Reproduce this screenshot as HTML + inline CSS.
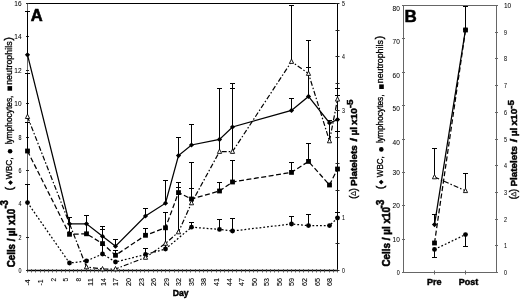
<!DOCTYPE html>
<html><head><meta charset="utf-8"><title>Figure</title>
<style>html,body{margin:0;padding:0;background:#fff}svg{display:block}</style></head>
<body>
<svg width="520" height="299" viewBox="0 0 520 299" font-family='"Liberation Sans", sans-serif' fill="#000">
<rect width="520" height="299" fill="#fff"/>
<line x1="27.50" y1="3.50" x2="337.50" y2="3.50" stroke="#000" stroke-width="1" />
<line x1="27.50" y1="3.50" x2="27.50" y2="270.50" stroke="#666" stroke-width="1" />
<line x1="337.50" y1="3.50" x2="337.50" y2="270.50" stroke="#000" stroke-width="1" />
<line x1="27.00" y1="270.50" x2="338.00" y2="270.50" stroke="#000" stroke-width="1.3" />
<line x1="27.50" y1="269.00" x2="27.50" y2="272.50" stroke="#444" stroke-width="0.8" />
<line x1="31.50" y1="269.00" x2="31.50" y2="272.50" stroke="#444" stroke-width="0.8" />
<line x1="35.50" y1="269.00" x2="35.50" y2="272.50" stroke="#444" stroke-width="0.8" />
<line x1="40.50" y1="269.00" x2="40.50" y2="272.50" stroke="#444" stroke-width="0.8" />
<line x1="44.50" y1="269.00" x2="44.50" y2="272.50" stroke="#444" stroke-width="0.8" />
<line x1="48.50" y1="269.00" x2="48.50" y2="272.50" stroke="#444" stroke-width="0.8" />
<line x1="52.50" y1="269.00" x2="52.50" y2="272.50" stroke="#444" stroke-width="0.8" />
<line x1="56.50" y1="269.00" x2="56.50" y2="272.50" stroke="#444" stroke-width="0.8" />
<line x1="61.50" y1="269.00" x2="61.50" y2="272.50" stroke="#444" stroke-width="0.8" />
<line x1="65.50" y1="269.00" x2="65.50" y2="272.50" stroke="#444" stroke-width="0.8" />
<line x1="69.50" y1="269.00" x2="69.50" y2="272.50" stroke="#444" stroke-width="0.8" />
<line x1="73.50" y1="269.00" x2="73.50" y2="272.50" stroke="#444" stroke-width="0.8" />
<line x1="77.50" y1="269.00" x2="77.50" y2="272.50" stroke="#444" stroke-width="0.8" />
<line x1="81.50" y1="269.00" x2="81.50" y2="272.50" stroke="#444" stroke-width="0.8" />
<line x1="86.50" y1="269.00" x2="86.50" y2="272.50" stroke="#444" stroke-width="0.8" />
<line x1="90.50" y1="269.00" x2="90.50" y2="272.50" stroke="#444" stroke-width="0.8" />
<line x1="94.50" y1="269.00" x2="94.50" y2="272.50" stroke="#444" stroke-width="0.8" />
<line x1="98.50" y1="269.00" x2="98.50" y2="272.50" stroke="#444" stroke-width="0.8" />
<line x1="102.50" y1="269.00" x2="102.50" y2="272.50" stroke="#444" stroke-width="0.8" />
<line x1="107.50" y1="269.00" x2="107.50" y2="272.50" stroke="#444" stroke-width="0.8" />
<line x1="111.50" y1="269.00" x2="111.50" y2="272.50" stroke="#444" stroke-width="0.8" />
<line x1="115.50" y1="269.00" x2="115.50" y2="272.50" stroke="#444" stroke-width="0.8" />
<line x1="119.50" y1="269.00" x2="119.50" y2="272.50" stroke="#444" stroke-width="0.8" />
<line x1="123.50" y1="269.00" x2="123.50" y2="272.50" stroke="#444" stroke-width="0.8" />
<line x1="128.50" y1="269.00" x2="128.50" y2="272.50" stroke="#444" stroke-width="0.8" />
<line x1="132.50" y1="269.00" x2="132.50" y2="272.50" stroke="#444" stroke-width="0.8" />
<line x1="136.50" y1="269.00" x2="136.50" y2="272.50" stroke="#444" stroke-width="0.8" />
<line x1="140.50" y1="269.00" x2="140.50" y2="272.50" stroke="#444" stroke-width="0.8" />
<line x1="144.50" y1="269.00" x2="144.50" y2="272.50" stroke="#444" stroke-width="0.8" />
<line x1="148.50" y1="269.00" x2="148.50" y2="272.50" stroke="#444" stroke-width="0.8" />
<line x1="153.50" y1="269.00" x2="153.50" y2="272.50" stroke="#444" stroke-width="0.8" />
<line x1="157.50" y1="269.00" x2="157.50" y2="272.50" stroke="#444" stroke-width="0.8" />
<line x1="161.50" y1="269.00" x2="161.50" y2="272.50" stroke="#444" stroke-width="0.8" />
<line x1="165.50" y1="269.00" x2="165.50" y2="272.50" stroke="#444" stroke-width="0.8" />
<line x1="169.50" y1="269.00" x2="169.50" y2="272.50" stroke="#444" stroke-width="0.8" />
<line x1="174.50" y1="269.00" x2="174.50" y2="272.50" stroke="#444" stroke-width="0.8" />
<line x1="178.50" y1="269.00" x2="178.50" y2="272.50" stroke="#444" stroke-width="0.8" />
<line x1="182.50" y1="269.00" x2="182.50" y2="272.50" stroke="#444" stroke-width="0.8" />
<line x1="186.50" y1="269.00" x2="186.50" y2="272.50" stroke="#444" stroke-width="0.8" />
<line x1="190.50" y1="269.00" x2="190.50" y2="272.50" stroke="#444" stroke-width="0.8" />
<line x1="195.50" y1="269.00" x2="195.50" y2="272.50" stroke="#444" stroke-width="0.8" />
<line x1="199.50" y1="269.00" x2="199.50" y2="272.50" stroke="#444" stroke-width="0.8" />
<line x1="203.50" y1="269.00" x2="203.50" y2="272.50" stroke="#444" stroke-width="0.8" />
<line x1="207.50" y1="269.00" x2="207.50" y2="272.50" stroke="#444" stroke-width="0.8" />
<line x1="211.50" y1="269.00" x2="211.50" y2="272.50" stroke="#444" stroke-width="0.8" />
<line x1="216.50" y1="269.00" x2="216.50" y2="272.50" stroke="#444" stroke-width="0.8" />
<line x1="220.50" y1="269.00" x2="220.50" y2="272.50" stroke="#444" stroke-width="0.8" />
<line x1="224.50" y1="269.00" x2="224.50" y2="272.50" stroke="#444" stroke-width="0.8" />
<line x1="228.50" y1="269.00" x2="228.50" y2="272.50" stroke="#444" stroke-width="0.8" />
<line x1="232.50" y1="269.00" x2="232.50" y2="272.50" stroke="#444" stroke-width="0.8" />
<line x1="236.50" y1="269.00" x2="236.50" y2="272.50" stroke="#444" stroke-width="0.8" />
<line x1="241.50" y1="269.00" x2="241.50" y2="272.50" stroke="#444" stroke-width="0.8" />
<line x1="245.50" y1="269.00" x2="245.50" y2="272.50" stroke="#444" stroke-width="0.8" />
<line x1="249.50" y1="269.00" x2="249.50" y2="272.50" stroke="#444" stroke-width="0.8" />
<line x1="253.50" y1="269.00" x2="253.50" y2="272.50" stroke="#444" stroke-width="0.8" />
<line x1="257.50" y1="269.00" x2="257.50" y2="272.50" stroke="#444" stroke-width="0.8" />
<line x1="262.50" y1="269.00" x2="262.50" y2="272.50" stroke="#444" stroke-width="0.8" />
<line x1="266.50" y1="269.00" x2="266.50" y2="272.50" stroke="#444" stroke-width="0.8" />
<line x1="270.50" y1="269.00" x2="270.50" y2="272.50" stroke="#444" stroke-width="0.8" />
<line x1="274.50" y1="269.00" x2="274.50" y2="272.50" stroke="#444" stroke-width="0.8" />
<line x1="278.50" y1="269.00" x2="278.50" y2="272.50" stroke="#444" stroke-width="0.8" />
<line x1="283.50" y1="269.00" x2="283.50" y2="272.50" stroke="#444" stroke-width="0.8" />
<line x1="287.50" y1="269.00" x2="287.50" y2="272.50" stroke="#444" stroke-width="0.8" />
<line x1="291.50" y1="269.00" x2="291.50" y2="272.50" stroke="#444" stroke-width="0.8" />
<line x1="295.50" y1="269.00" x2="295.50" y2="272.50" stroke="#444" stroke-width="0.8" />
<line x1="299.50" y1="269.00" x2="299.50" y2="272.50" stroke="#444" stroke-width="0.8" />
<line x1="303.50" y1="269.00" x2="303.50" y2="272.50" stroke="#444" stroke-width="0.8" />
<line x1="308.50" y1="269.00" x2="308.50" y2="272.50" stroke="#444" stroke-width="0.8" />
<line x1="312.50" y1="269.00" x2="312.50" y2="272.50" stroke="#444" stroke-width="0.8" />
<line x1="316.50" y1="269.00" x2="316.50" y2="272.50" stroke="#444" stroke-width="0.8" />
<line x1="320.50" y1="269.00" x2="320.50" y2="272.50" stroke="#444" stroke-width="0.8" />
<line x1="324.50" y1="269.00" x2="324.50" y2="272.50" stroke="#444" stroke-width="0.8" />
<line x1="329.50" y1="269.00" x2="329.50" y2="272.50" stroke="#444" stroke-width="0.8" />
<line x1="333.50" y1="269.00" x2="333.50" y2="272.50" stroke="#444" stroke-width="0.8" />
<line x1="337.50" y1="269.00" x2="337.50" y2="272.50" stroke="#444" stroke-width="0.8" />
<text x="30.50" y="285.60" font-size="6.9" text-anchor="start" transform="rotate(-90 30.50 285.60)" textLength="6.10" lengthAdjust="spacingAndGlyphs"  stroke="#000" stroke-width="0.1">-4</text>
<text x="43.07" y="285.60" font-size="6.9" text-anchor="start" transform="rotate(-90 43.07 285.60)" textLength="6.10" lengthAdjust="spacingAndGlyphs"  stroke="#000" stroke-width="0.1">-1</text>
<text x="55.64" y="281.40" font-size="6.9" text-anchor="start" transform="rotate(-90 55.64 281.40)" textLength="3.60" lengthAdjust="spacingAndGlyphs"  stroke="#000" stroke-width="0.1">2</text>
<text x="68.20" y="281.40" font-size="6.9" text-anchor="start" transform="rotate(-90 68.20 281.40)" textLength="3.60" lengthAdjust="spacingAndGlyphs"  stroke="#000" stroke-width="0.1">5</text>
<text x="80.77" y="281.40" font-size="6.9" text-anchor="start" transform="rotate(-90 80.77 281.40)" textLength="3.60" lengthAdjust="spacingAndGlyphs"  stroke="#000" stroke-width="0.1">8</text>
<text x="93.34" y="285.90" font-size="6.9" text-anchor="start" transform="rotate(-90 93.34 285.90)" textLength="7.90" lengthAdjust="spacingAndGlyphs"  stroke="#000" stroke-width="0.1">11</text>
<text x="105.91" y="285.90" font-size="6.9" text-anchor="start" transform="rotate(-90 105.91 285.90)" textLength="7.90" lengthAdjust="spacingAndGlyphs"  stroke="#000" stroke-width="0.1">14</text>
<text x="118.47" y="285.90" font-size="6.9" text-anchor="start" transform="rotate(-90 118.47 285.90)" textLength="7.90" lengthAdjust="spacingAndGlyphs"  stroke="#000" stroke-width="0.1">17</text>
<text x="131.04" y="285.90" font-size="6.9" text-anchor="start" transform="rotate(-90 131.04 285.90)" textLength="7.90" lengthAdjust="spacingAndGlyphs"  stroke="#000" stroke-width="0.1">20</text>
<text x="143.61" y="285.90" font-size="6.9" text-anchor="start" transform="rotate(-90 143.61 285.90)" textLength="7.90" lengthAdjust="spacingAndGlyphs"  stroke="#000" stroke-width="0.1">23</text>
<text x="156.18" y="285.90" font-size="6.9" text-anchor="start" transform="rotate(-90 156.18 285.90)" textLength="7.90" lengthAdjust="spacingAndGlyphs"  stroke="#000" stroke-width="0.1">26</text>
<text x="168.74" y="285.90" font-size="6.9" text-anchor="start" transform="rotate(-90 168.74 285.90)" textLength="7.90" lengthAdjust="spacingAndGlyphs"  stroke="#000" stroke-width="0.1">29</text>
<text x="181.31" y="285.90" font-size="6.9" text-anchor="start" transform="rotate(-90 181.31 285.90)" textLength="7.90" lengthAdjust="spacingAndGlyphs"  stroke="#000" stroke-width="0.1">32</text>
<text x="193.88" y="285.90" font-size="6.9" text-anchor="start" transform="rotate(-90 193.88 285.90)" textLength="7.90" lengthAdjust="spacingAndGlyphs"  stroke="#000" stroke-width="0.1">35</text>
<text x="206.45" y="285.90" font-size="6.9" text-anchor="start" transform="rotate(-90 206.45 285.90)" textLength="7.90" lengthAdjust="spacingAndGlyphs"  stroke="#000" stroke-width="0.1">38</text>
<text x="219.01" y="285.90" font-size="6.9" text-anchor="start" transform="rotate(-90 219.01 285.90)" textLength="7.90" lengthAdjust="spacingAndGlyphs"  stroke="#000" stroke-width="0.1">41</text>
<text x="231.58" y="285.90" font-size="6.9" text-anchor="start" transform="rotate(-90 231.58 285.90)" textLength="7.90" lengthAdjust="spacingAndGlyphs"  stroke="#000" stroke-width="0.1">44</text>
<text x="244.15" y="285.90" font-size="6.9" text-anchor="start" transform="rotate(-90 244.15 285.90)" textLength="7.90" lengthAdjust="spacingAndGlyphs"  stroke="#000" stroke-width="0.1">47</text>
<text x="256.72" y="285.90" font-size="6.9" text-anchor="start" transform="rotate(-90 256.72 285.90)" textLength="7.90" lengthAdjust="spacingAndGlyphs"  stroke="#000" stroke-width="0.1">50</text>
<text x="269.28" y="285.90" font-size="6.9" text-anchor="start" transform="rotate(-90 269.28 285.90)" textLength="7.90" lengthAdjust="spacingAndGlyphs"  stroke="#000" stroke-width="0.1">53</text>
<text x="281.85" y="285.90" font-size="6.9" text-anchor="start" transform="rotate(-90 281.85 285.90)" textLength="7.90" lengthAdjust="spacingAndGlyphs"  stroke="#000" stroke-width="0.1">56</text>
<text x="294.42" y="285.90" font-size="6.9" text-anchor="start" transform="rotate(-90 294.42 285.90)" textLength="7.90" lengthAdjust="spacingAndGlyphs"  stroke="#000" stroke-width="0.1">59</text>
<text x="306.99" y="285.90" font-size="6.9" text-anchor="start" transform="rotate(-90 306.99 285.90)" textLength="7.90" lengthAdjust="spacingAndGlyphs"  stroke="#000" stroke-width="0.1">62</text>
<text x="319.55" y="285.90" font-size="6.9" text-anchor="start" transform="rotate(-90 319.55 285.90)" textLength="7.90" lengthAdjust="spacingAndGlyphs"  stroke="#000" stroke-width="0.1">65</text>
<text x="332.12" y="285.90" font-size="6.9" text-anchor="start" transform="rotate(-90 332.12 285.90)" textLength="7.90" lengthAdjust="spacingAndGlyphs"  stroke="#000" stroke-width="0.1">68</text>
<line x1="26.00" y1="270.50" x2="29.00" y2="270.50" stroke="#222" stroke-width="1" />
<text x="21.60" y="273.00" font-size="6.5" text-anchor="end" textLength="3.00" lengthAdjust="spacingAndGlyphs"  stroke="#000" stroke-width="0.05">0</text>
<line x1="26.00" y1="237.50" x2="29.00" y2="237.50" stroke="#222" stroke-width="1" />
<text x="21.60" y="240.00" font-size="6.5" text-anchor="end" textLength="3.00" lengthAdjust="spacingAndGlyphs"  stroke="#000" stroke-width="0.05">2</text>
<line x1="26.00" y1="203.50" x2="29.00" y2="203.50" stroke="#222" stroke-width="1" />
<text x="21.60" y="206.00" font-size="6.5" text-anchor="end" textLength="3.00" lengthAdjust="spacingAndGlyphs"  stroke="#000" stroke-width="0.05">4</text>
<line x1="26.00" y1="170.50" x2="29.00" y2="170.50" stroke="#222" stroke-width="1" />
<text x="21.60" y="173.00" font-size="6.5" text-anchor="end" textLength="3.00" lengthAdjust="spacingAndGlyphs"  stroke="#000" stroke-width="0.05">6</text>
<line x1="26.00" y1="137.50" x2="29.00" y2="137.50" stroke="#222" stroke-width="1" />
<text x="21.60" y="140.00" font-size="6.5" text-anchor="end" textLength="3.00" lengthAdjust="spacingAndGlyphs"  stroke="#000" stroke-width="0.05">8</text>
<line x1="26.00" y1="103.50" x2="29.00" y2="103.50" stroke="#222" stroke-width="1" />
<text x="21.60" y="106.00" font-size="6.5" text-anchor="end"  stroke="#000" stroke-width="0.05">10</text>
<line x1="26.00" y1="70.50" x2="29.00" y2="70.50" stroke="#222" stroke-width="1" />
<text x="21.60" y="73.00" font-size="6.5" text-anchor="end"  stroke="#000" stroke-width="0.05">12</text>
<line x1="26.00" y1="36.50" x2="29.00" y2="36.50" stroke="#222" stroke-width="1" />
<text x="21.60" y="39.00" font-size="6.5" text-anchor="end"  stroke="#000" stroke-width="0.05">14</text>
<line x1="26.00" y1="3.50" x2="29.00" y2="3.50" stroke="#222" stroke-width="1" />
<text x="21.60" y="6.00" font-size="6.5" text-anchor="end"  stroke="#000" stroke-width="0.05">16</text>
<line x1="335.50" y1="270.50" x2="339.50" y2="270.50" stroke="#222" stroke-width="1" />
<text x="342.00" y="273.10" font-size="6.8" text-anchor="start" textLength="2.90" lengthAdjust="spacingAndGlyphs"  stroke="#000" stroke-width="0.05">0</text>
<line x1="335.50" y1="243.50" x2="339.50" y2="243.50" stroke="#222" stroke-width="1" />
<line x1="335.50" y1="217.50" x2="339.50" y2="217.50" stroke="#222" stroke-width="1" />
<text x="342.00" y="220.10" font-size="6.8" text-anchor="start" textLength="2.90" lengthAdjust="spacingAndGlyphs"  stroke="#000" stroke-width="0.05">1</text>
<line x1="335.50" y1="190.50" x2="339.50" y2="190.50" stroke="#222" stroke-width="1" />
<line x1="335.50" y1="163.50" x2="339.50" y2="163.50" stroke="#222" stroke-width="1" />
<line x1="335.50" y1="137.50" x2="339.50" y2="137.50" stroke="#222" stroke-width="1" />
<line x1="335.50" y1="110.50" x2="339.50" y2="110.50" stroke="#222" stroke-width="1" />
<text x="342.00" y="113.10" font-size="6.8" text-anchor="start" textLength="2.90" lengthAdjust="spacingAndGlyphs"  stroke="#000" stroke-width="0.05">3</text>
<line x1="335.50" y1="83.50" x2="339.50" y2="83.50" stroke="#222" stroke-width="1" />
<line x1="335.50" y1="56.50" x2="339.50" y2="56.50" stroke="#222" stroke-width="1" />
<text x="342.00" y="59.10" font-size="6.8" text-anchor="start" textLength="2.90" lengthAdjust="spacingAndGlyphs"  stroke="#000" stroke-width="0.05">4</text>
<line x1="335.50" y1="30.50" x2="339.50" y2="30.50" stroke="#222" stroke-width="1" />
<line x1="335.50" y1="3.50" x2="339.50" y2="3.50" stroke="#222" stroke-width="1" />
<text x="342.00" y="6.10" font-size="6.8" text-anchor="start" textLength="2.90" lengthAdjust="spacingAndGlyphs"  stroke="#000" stroke-width="0.05">5</text>
<text x="30.80" y="21.00" font-size="16.5" text-anchor="start" font-weight="bold"  stroke="#000" stroke-width="0.6">A</text>
<text x="180.60" y="295.60" font-size="8.6" text-anchor="middle" font-weight="bold"  stroke="#000" stroke-width="0.45">Day</text>
<line x1="27.50" y1="11.00" x2="27.50" y2="54.80" stroke="#000" stroke-width="1" />
<line x1="25.00" y1="11.50" x2="30.00" y2="11.50" stroke="#000" stroke-width="1" />
<line x1="27.50" y1="73.00" x2="27.50" y2="116.70" stroke="#000" stroke-width="1" />
<line x1="25.00" y1="73.50" x2="30.00" y2="73.50" stroke="#000" stroke-width="1" />
<line x1="27.50" y1="122.00" x2="27.50" y2="151.00" stroke="#000" stroke-width="1" />
<line x1="25.00" y1="122.50" x2="30.00" y2="122.50" stroke="#000" stroke-width="1" />
<line x1="27.50" y1="184.00" x2="27.50" y2="202.60" stroke="#000" stroke-width="1" />
<line x1="25.00" y1="184.50" x2="30.00" y2="184.50" stroke="#000" stroke-width="1" />
<line x1="69.50" y1="217.00" x2="69.50" y2="234.30" stroke="#000" stroke-width="1" />
<line x1="67.00" y1="217.50" x2="72.00" y2="217.50" stroke="#000" stroke-width="1" />
<line x1="86.50" y1="215.00" x2="86.50" y2="233.80" stroke="#000" stroke-width="1" />
<line x1="84.00" y1="215.50" x2="89.00" y2="215.50" stroke="#000" stroke-width="1" />
<line x1="102.50" y1="226.00" x2="102.50" y2="254.00" stroke="#000" stroke-width="1" />
<line x1="100.00" y1="226.50" x2="105.00" y2="226.50" stroke="#000" stroke-width="1" />
<line x1="100.00" y1="229.50" x2="105.00" y2="229.50" stroke="#000" stroke-width="1" />
<line x1="115.50" y1="239.00" x2="115.50" y2="246.20" stroke="#000" stroke-width="1" />
<line x1="113.00" y1="239.50" x2="118.00" y2="239.50" stroke="#000" stroke-width="1" />
<line x1="115.50" y1="250.00" x2="115.50" y2="255.30" stroke="#000" stroke-width="1" />
<line x1="113.00" y1="250.50" x2="118.00" y2="250.50" stroke="#000" stroke-width="1" />
<line x1="145.50" y1="208.00" x2="145.50" y2="216.00" stroke="#000" stroke-width="1" />
<line x1="143.00" y1="208.50" x2="148.00" y2="208.50" stroke="#000" stroke-width="1" />
<line x1="145.50" y1="228.00" x2="145.50" y2="235.30" stroke="#000" stroke-width="1" />
<line x1="143.00" y1="228.50" x2="148.00" y2="228.50" stroke="#000" stroke-width="1" />
<line x1="145.50" y1="248.00" x2="145.50" y2="254.50" stroke="#000" stroke-width="1" />
<line x1="143.00" y1="248.50" x2="148.00" y2="248.50" stroke="#000" stroke-width="1" />
<line x1="165.50" y1="180.00" x2="165.50" y2="203.20" stroke="#000" stroke-width="1" />
<line x1="163.00" y1="180.50" x2="168.00" y2="180.50" stroke="#000" stroke-width="1" />
<line x1="165.50" y1="212.00" x2="165.50" y2="249.00" stroke="#000" stroke-width="1" />
<line x1="163.00" y1="212.50" x2="168.00" y2="212.50" stroke="#000" stroke-width="1" />
<line x1="178.50" y1="137.00" x2="178.50" y2="155.60" stroke="#000" stroke-width="1" />
<line x1="176.00" y1="137.50" x2="181.00" y2="137.50" stroke="#000" stroke-width="1" />
<line x1="178.50" y1="182.00" x2="178.50" y2="232.00" stroke="#000" stroke-width="1" />
<line x1="176.00" y1="182.50" x2="181.00" y2="182.50" stroke="#000" stroke-width="1" />
<line x1="176.00" y1="187.50" x2="181.00" y2="187.50" stroke="#000" stroke-width="1" />
<line x1="191.50" y1="124.00" x2="191.50" y2="145.00" stroke="#000" stroke-width="1" />
<line x1="189.00" y1="124.50" x2="194.00" y2="124.50" stroke="#000" stroke-width="1" />
<line x1="191.50" y1="162.00" x2="191.50" y2="203.00" stroke="#000" stroke-width="1" />
<line x1="189.00" y1="162.50" x2="194.00" y2="162.50" stroke="#000" stroke-width="1" />
<line x1="189.00" y1="188.50" x2="194.00" y2="188.50" stroke="#000" stroke-width="1" />
<line x1="191.50" y1="222.00" x2="191.50" y2="227.20" stroke="#000" stroke-width="1" />
<line x1="189.00" y1="222.50" x2="194.00" y2="222.50" stroke="#000" stroke-width="1" />
<line x1="219.50" y1="88.00" x2="219.50" y2="151.60" stroke="#000" stroke-width="1" />
<line x1="217.00" y1="88.50" x2="222.00" y2="88.50" stroke="#000" stroke-width="1" />
<line x1="219.50" y1="182.00" x2="219.50" y2="191.00" stroke="#000" stroke-width="1" />
<line x1="217.00" y1="182.50" x2="222.00" y2="182.50" stroke="#000" stroke-width="1" />
<line x1="219.50" y1="219.00" x2="219.50" y2="229.40" stroke="#000" stroke-width="1" />
<line x1="217.00" y1="219.50" x2="222.00" y2="219.50" stroke="#000" stroke-width="1" />
<line x1="232.50" y1="83.00" x2="232.50" y2="151.60" stroke="#000" stroke-width="1" />
<line x1="230.00" y1="83.50" x2="235.00" y2="83.50" stroke="#000" stroke-width="1" />
<line x1="230.00" y1="88.50" x2="235.00" y2="88.50" stroke="#000" stroke-width="1" />
<line x1="232.50" y1="160.00" x2="232.50" y2="182.00" stroke="#000" stroke-width="1" />
<line x1="230.00" y1="160.50" x2="235.00" y2="160.50" stroke="#000" stroke-width="1" />
<line x1="232.50" y1="218.00" x2="232.50" y2="231.00" stroke="#000" stroke-width="1" />
<line x1="230.00" y1="218.50" x2="235.00" y2="218.50" stroke="#000" stroke-width="1" />
<line x1="291.50" y1="5.00" x2="291.50" y2="61.60" stroke="#000" stroke-width="1" />
<line x1="289.00" y1="5.50" x2="294.00" y2="5.50" stroke="#000" stroke-width="1" />
<line x1="291.50" y1="98.00" x2="291.50" y2="110.40" stroke="#000" stroke-width="1" />
<line x1="289.00" y1="98.50" x2="294.00" y2="98.50" stroke="#000" stroke-width="1" />
<line x1="291.50" y1="162.00" x2="291.50" y2="172.40" stroke="#000" stroke-width="1" />
<line x1="289.00" y1="162.50" x2="294.00" y2="162.50" stroke="#000" stroke-width="1" />
<line x1="291.50" y1="216.00" x2="291.50" y2="224.00" stroke="#000" stroke-width="1" />
<line x1="289.00" y1="216.50" x2="294.00" y2="216.50" stroke="#000" stroke-width="1" />
<line x1="308.50" y1="40.00" x2="308.50" y2="96.40" stroke="#000" stroke-width="1" />
<line x1="306.00" y1="40.50" x2="311.00" y2="40.50" stroke="#000" stroke-width="1" />
<line x1="306.00" y1="67.50" x2="311.00" y2="67.50" stroke="#000" stroke-width="1" />
<line x1="308.50" y1="143.00" x2="308.50" y2="161.40" stroke="#000" stroke-width="1" />
<line x1="306.00" y1="143.50" x2="311.00" y2="143.50" stroke="#000" stroke-width="1" />
<line x1="308.50" y1="214.00" x2="308.50" y2="225.60" stroke="#000" stroke-width="1" />
<line x1="306.00" y1="214.50" x2="311.00" y2="214.50" stroke="#000" stroke-width="1" />
<line x1="329.50" y1="120.00" x2="329.50" y2="141.00" stroke="#000" stroke-width="1" />
<line x1="327.00" y1="120.50" x2="332.00" y2="120.50" stroke="#000" stroke-width="1" />
<line x1="337.50" y1="88.00" x2="337.50" y2="99.00" stroke="#000" stroke-width="1" />
<line x1="335.00" y1="88.50" x2="340.00" y2="88.50" stroke="#000" stroke-width="1" />
<line x1="335.00" y1="95.50" x2="340.00" y2="95.50" stroke="#000" stroke-width="1" />
<line x1="337.50" y1="119.00" x2="337.50" y2="131.00" stroke="#000" stroke-width="1" />
<line x1="335.00" y1="131.50" x2="340.00" y2="131.50" stroke="#000" stroke-width="1" />
<line x1="337.50" y1="212.00" x2="337.50" y2="218.00" stroke="#000" stroke-width="1" />
<line x1="335.00" y1="212.50" x2="340.00" y2="212.50" stroke="#000" stroke-width="1" />
<polyline points="27.50,54.80 69.50,223.80 86.50,223.80 102.50,236.30 115.50,246.20 145.50,216.00 165.50,203.20 178.50,155.60 191.50,145.00 219.50,139.40 232.50,127.00 291.50,110.40 308.50,96.40 329.50,123.00 337.50,119.60" fill="none" stroke="#000" stroke-width="1.25"/>
<polyline points="27.50,151.00 69.50,234.30 86.50,233.80 102.50,243.60 115.50,255.30 145.50,235.30 165.50,227.80 178.50,192.60 191.50,199.00 219.50,191.00 232.50,182.00 291.50,172.40 308.50,161.40 329.50,185.00 337.50,169.00" fill="none" stroke="#000" stroke-width="1.25" stroke-dasharray="5 2.5"/>
<polyline points="27.50,202.60 69.50,263.00 86.50,261.00 102.50,254.00 115.50,262.00 145.50,254.50 165.50,249.00 191.50,227.20 219.50,229.40 232.50,231.00 291.50,224.00 308.50,225.60 329.50,225.60 337.50,218.00" fill="none" stroke="#000" stroke-width="1.25" stroke-dasharray="1.8 2"/>
<polyline points="27.50,116.70 86.50,267.00 102.50,269.00 115.50,269.00 145.50,257.50 165.50,243.50 178.50,232.00 191.50,203.00 219.50,151.60 232.50,151.60 291.50,61.60 308.50,73.60 329.50,141.00 337.50,99.30" fill="none" stroke="#000" stroke-width="1.2" stroke-dasharray="5 2 1.5 2"/>
<polygon points="27.50,52.20 30.10,54.80 27.50,57.40 24.90,54.80" fill="#000"/>
<polygon points="69.50,221.20 72.10,223.80 69.50,226.40 66.90,223.80" fill="#000"/>
<polygon points="86.50,221.20 89.10,223.80 86.50,226.40 83.90,223.80" fill="#000"/>
<polygon points="102.50,233.70 105.10,236.30 102.50,238.90 99.90,236.30" fill="#000"/>
<polygon points="115.50,243.60 118.10,246.20 115.50,248.80 112.90,246.20" fill="#000"/>
<polygon points="145.50,213.40 148.10,216.00 145.50,218.60 142.90,216.00" fill="#000"/>
<polygon points="165.50,200.60 168.10,203.20 165.50,205.80 162.90,203.20" fill="#000"/>
<polygon points="178.50,153.00 181.10,155.60 178.50,158.20 175.90,155.60" fill="#000"/>
<polygon points="191.50,142.40 194.10,145.00 191.50,147.60 188.90,145.00" fill="#000"/>
<polygon points="219.50,136.80 222.10,139.40 219.50,142.00 216.90,139.40" fill="#000"/>
<polygon points="232.50,124.40 235.10,127.00 232.50,129.60 229.90,127.00" fill="#000"/>
<polygon points="291.50,107.80 294.10,110.40 291.50,113.00 288.90,110.40" fill="#000"/>
<polygon points="308.50,93.80 311.10,96.40 308.50,99.00 305.90,96.40" fill="#000"/>
<polygon points="329.50,120.40 332.10,123.00 329.50,125.60 326.90,123.00" fill="#000"/>
<polygon points="337.50,117.00 340.10,119.60 337.50,122.20 334.90,119.60" fill="#000"/>
<rect x="25.10" y="148.60" width="4.80" height="4.80" fill="#000"/>
<rect x="67.10" y="231.90" width="4.80" height="4.80" fill="#000"/>
<rect x="84.10" y="231.40" width="4.80" height="4.80" fill="#000"/>
<rect x="100.10" y="241.20" width="4.80" height="4.80" fill="#000"/>
<rect x="113.10" y="252.90" width="4.80" height="4.80" fill="#000"/>
<rect x="143.10" y="232.90" width="4.80" height="4.80" fill="#000"/>
<rect x="163.10" y="225.40" width="4.80" height="4.80" fill="#000"/>
<rect x="176.10" y="190.20" width="4.80" height="4.80" fill="#000"/>
<rect x="189.10" y="196.60" width="4.80" height="4.80" fill="#000"/>
<rect x="217.10" y="188.60" width="4.80" height="4.80" fill="#000"/>
<rect x="230.10" y="179.60" width="4.80" height="4.80" fill="#000"/>
<rect x="289.10" y="170.00" width="4.80" height="4.80" fill="#000"/>
<rect x="306.10" y="159.00" width="4.80" height="4.80" fill="#000"/>
<rect x="327.10" y="182.60" width="4.80" height="4.80" fill="#000"/>
<rect x="335.10" y="166.60" width="4.80" height="4.80" fill="#000"/>
<circle cx="27.50" cy="202.60" r="2.4" fill="#000"/>
<circle cx="69.50" cy="263.00" r="2.4" fill="#000"/>
<circle cx="86.50" cy="261.00" r="2.4" fill="#000"/>
<circle cx="102.50" cy="254.00" r="2.4" fill="#000"/>
<circle cx="115.50" cy="262.00" r="2.4" fill="#000"/>
<circle cx="145.50" cy="254.50" r="2.4" fill="#000"/>
<circle cx="165.50" cy="249.00" r="2.4" fill="#000"/>
<circle cx="191.50" cy="227.20" r="2.4" fill="#000"/>
<circle cx="219.50" cy="229.40" r="2.4" fill="#000"/>
<circle cx="232.50" cy="231.00" r="2.4" fill="#000"/>
<circle cx="291.50" cy="224.00" r="2.4" fill="#000"/>
<circle cx="308.50" cy="225.60" r="2.4" fill="#000"/>
<circle cx="329.50" cy="225.60" r="2.4" fill="#000"/>
<circle cx="337.50" cy="218.00" r="2.4" fill="#000"/>
<polygon points="27.50,114.20 29.60,118.50 25.40,118.50" fill="#fff" stroke="#000" stroke-width="0.9"/>
<polygon points="86.50,264.50 88.60,268.80 84.40,268.80" fill="#fff" stroke="#000" stroke-width="0.9"/>
<polygon points="102.50,266.50 104.60,270.80 100.40,270.80" fill="#fff" stroke="#000" stroke-width="0.9"/>
<polygon points="115.50,266.50 117.60,270.80 113.40,270.80" fill="#fff" stroke="#000" stroke-width="0.9"/>
<polygon points="145.50,255.00 147.60,259.30 143.40,259.30" fill="#fff" stroke="#000" stroke-width="0.9"/>
<polygon points="165.50,241.00 167.60,245.30 163.40,245.30" fill="#fff" stroke="#000" stroke-width="0.9"/>
<polygon points="178.50,229.50 180.60,233.80 176.40,233.80" fill="#fff" stroke="#000" stroke-width="0.9"/>
<polygon points="191.50,200.50 193.60,204.80 189.40,204.80" fill="#fff" stroke="#000" stroke-width="0.9"/>
<polygon points="219.50,149.10 221.60,153.40 217.40,153.40" fill="#fff" stroke="#000" stroke-width="0.9"/>
<polygon points="232.50,149.10 234.60,153.40 230.40,153.40" fill="#fff" stroke="#000" stroke-width="0.9"/>
<polygon points="291.50,59.10 293.60,63.40 289.40,63.40" fill="#fff" stroke="#000" stroke-width="0.9"/>
<polygon points="308.50,71.10 310.60,75.40 306.40,75.40" fill="#fff" stroke="#000" stroke-width="0.9"/>
<polygon points="329.50,138.50 331.60,142.80 327.40,142.80" fill="#fff" stroke="#000" stroke-width="0.9"/>
<polygon points="337.50,96.80 339.60,101.10 335.40,101.10" fill="#fff" stroke="#000" stroke-width="0.9"/>
<text x="14.90" y="267.20" font-size="10.1" text-anchor="start" font-weight="bold" transform="rotate(-90 14.90 267.20)" textLength="58.40" lengthAdjust="spacingAndGlyphs"  stroke="#000" stroke-width="0.55">Cells / µl x10</text>
<text x="8.50" y="208.60" font-size="10.1" text-anchor="start" font-weight="bold" transform="rotate(-90 8.50 208.60)" textLength="8.60" lengthAdjust="spacingAndGlyphs"  stroke="#000" stroke-width="0.55">-3</text>
<text x="12.70" y="190.40" font-size="10.5" text-anchor="start" transform="rotate(-90 12.70 190.40)"  stroke="#000" stroke-width="0.5">(</text>
<polygon points="10.50,180.20 12.90,182.60 10.50,185.00 8.10,182.60" fill="#000"/>
<text x="12.40" y="179.20" font-size="8.2" text-anchor="start" transform="rotate(-90 12.40 179.20)" textLength="21.80" lengthAdjust="spacingAndGlyphs"  stroke="#000" stroke-width="0.3">WBC,</text>
<circle cx="10.10" cy="151.20" r="2.3" fill="#000"/>
<text x="12.20" y="144.30" font-size="8.2" text-anchor="start" transform="rotate(-90 12.20 144.30)" textLength="48.70" lengthAdjust="spacingAndGlyphs"  stroke="#000" stroke-width="0.3">lymphocytes,</text>
<rect x="7.50" y="86.10" width="4.60" height="4.60" fill="#000"/>
<text x="12.20" y="84.80" font-size="8.2" text-anchor="start" transform="rotate(-90 12.20 84.80)" textLength="43.40" lengthAdjust="spacingAndGlyphs"  stroke="#000" stroke-width="0.3">neutrophils</text>
<text x="11.60" y="40.50" font-size="10.5" text-anchor="start" transform="rotate(-90 11.60 40.50)"  stroke="#000" stroke-width="0.5">)</text>
<text x="389.70" y="266.60" font-size="10.1" text-anchor="start" font-weight="bold" transform="rotate(-90 389.70 266.60)" textLength="59.50" lengthAdjust="spacingAndGlyphs"  stroke="#000" stroke-width="0.55">Cells / µl x10</text>
<text x="383.80" y="208.60" font-size="10.1" text-anchor="start" font-weight="bold" transform="rotate(-90 383.80 208.60)" textLength="8.90" lengthAdjust="spacingAndGlyphs"  stroke="#000" stroke-width="0.55">-3</text>
<text x="383.70" y="189.20" font-size="10.5" text-anchor="start" transform="rotate(-90 383.70 189.20)"  stroke="#000" stroke-width="0.5">(</text>
<polygon points="381.20,179.70 383.60,182.10 381.20,184.50 378.80,182.10" fill="#000"/>
<text x="383.40" y="177.20" font-size="8.2" text-anchor="start" transform="rotate(-90 383.40 177.20)" textLength="21.00" lengthAdjust="spacingAndGlyphs"  stroke="#000" stroke-width="0.3">WBC,</text>
<circle cx="381.30" cy="149.40" r="2.3" fill="#000"/>
<text x="383.20" y="143.00" font-size="8.2" text-anchor="start" transform="rotate(-90 383.20 143.00)" textLength="48.60" lengthAdjust="spacingAndGlyphs"  stroke="#000" stroke-width="0.3">lymphocytes,</text>
<rect x="379.20" y="84.40" width="4.60" height="4.60" fill="#000"/>
<text x="383.20" y="83.20" font-size="8.2" text-anchor="start" transform="rotate(-90 383.20 83.20)" textLength="43.00" lengthAdjust="spacingAndGlyphs"  stroke="#000" stroke-width="0.3">neutrophils</text>
<text x="382.60" y="39.20" font-size="10.5" text-anchor="start" transform="rotate(-90 382.60 39.20)"  stroke="#000" stroke-width="0.5">)</text>
<text x="356.80" y="198.90" font-size="10.5" text-anchor="start" transform="rotate(-90 356.80 198.90)"  stroke="#000" stroke-width="0.35">(</text>
<polygon points="350.90,193.50 355.50,191.40 355.50,195.60" fill="#fff" stroke="#000" stroke-width="0.8"/>
<text x="356.80" y="191.50" font-size="10.5" text-anchor="start" transform="rotate(-90 356.80 191.50)"  stroke="#000" stroke-width="0.35">)</text>
<text x="356.80" y="185.90" font-size="9.5" text-anchor="start" font-weight="bold" transform="rotate(-90 356.80 185.90)" textLength="40.60" lengthAdjust="spacingAndGlyphs"  stroke="#000" stroke-width="0.45">Platelets</text>
<text x="356.80" y="141.50" font-size="9.5" text-anchor="start" font-weight="bold" transform="rotate(-90 356.80 141.50)" textLength="3.60" lengthAdjust="spacingAndGlyphs"  stroke="#000" stroke-width="0.45">/</text>
<text x="356.80" y="135.50" font-size="9.5" text-anchor="start" font-weight="bold" transform="rotate(-90 356.80 135.50)" textLength="8.60" lengthAdjust="spacingAndGlyphs"  stroke="#000" stroke-width="0.45">µl</text>
<text x="356.80" y="124.90" font-size="9.5" text-anchor="start" font-weight="bold" transform="rotate(-90 356.80 124.90)" textLength="16.90" lengthAdjust="spacingAndGlyphs"  stroke="#000" stroke-width="0.45">x10</text>
<text x="353.40" y="108.20" font-size="9.5" text-anchor="start" font-weight="bold" transform="rotate(-90 353.40 108.20)" textLength="8.90" lengthAdjust="spacingAndGlyphs"  stroke="#000" stroke-width="0.45">-5</text>
<text x="517.10" y="199.60" font-size="10.5" text-anchor="start" transform="rotate(-90 517.10 199.60)"  stroke="#000" stroke-width="0.35">(</text>
<polygon points="511.20,194.20 515.80,192.10 515.80,196.30" fill="#fff" stroke="#000" stroke-width="0.8"/>
<text x="517.10" y="192.20" font-size="10.5" text-anchor="start" transform="rotate(-90 517.10 192.20)"  stroke="#000" stroke-width="0.35">)</text>
<text x="517.10" y="186.60" font-size="9.5" text-anchor="start" font-weight="bold" transform="rotate(-90 517.10 186.60)" textLength="40.60" lengthAdjust="spacingAndGlyphs"  stroke="#000" stroke-width="0.45">Platelets</text>
<text x="517.10" y="142.20" font-size="9.5" text-anchor="start" font-weight="bold" transform="rotate(-90 517.10 142.20)" textLength="3.60" lengthAdjust="spacingAndGlyphs"  stroke="#000" stroke-width="0.45">/</text>
<text x="517.10" y="136.20" font-size="9.5" text-anchor="start" font-weight="bold" transform="rotate(-90 517.10 136.20)" textLength="8.60" lengthAdjust="spacingAndGlyphs"  stroke="#000" stroke-width="0.45">µl</text>
<text x="517.10" y="125.60" font-size="9.5" text-anchor="start" font-weight="bold" transform="rotate(-90 517.10 125.60)" textLength="16.90" lengthAdjust="spacingAndGlyphs"  stroke="#000" stroke-width="0.45">x10</text>
<text x="514.30" y="108.90" font-size="9.5" text-anchor="start" font-weight="bold" transform="rotate(-90 514.30 108.90)" textLength="8.90" lengthAdjust="spacingAndGlyphs"  stroke="#000" stroke-width="0.45">-5</text>
<line x1="403.50" y1="5.50" x2="496.50" y2="5.50" stroke="#666" stroke-width="1" />
<line x1="403.50" y1="5.50" x2="403.50" y2="272.50" stroke="#666" stroke-width="1" />
<line x1="496.50" y1="5.50" x2="496.50" y2="272.50" stroke="#666" stroke-width="1" />
<line x1="403.50" y1="272.50" x2="496.50" y2="272.50" stroke="#666" stroke-width="1" />
<line x1="402.00" y1="272.50" x2="405.00" y2="272.50" stroke="#666" stroke-width="1" />
<text x="399.80" y="275.40" font-size="6.5" text-anchor="end" textLength="3.00" lengthAdjust="spacingAndGlyphs"  stroke="#000" stroke-width="0.05">0</text>
<line x1="402.00" y1="239.50" x2="405.00" y2="239.50" stroke="#666" stroke-width="1" />
<text x="399.80" y="242.40" font-size="6.5" text-anchor="end"  stroke="#000" stroke-width="0.05">10</text>
<line x1="402.00" y1="205.50" x2="405.00" y2="205.50" stroke="#666" stroke-width="1" />
<text x="399.80" y="208.40" font-size="6.5" text-anchor="end"  stroke="#000" stroke-width="0.05">20</text>
<line x1="402.00" y1="172.50" x2="405.00" y2="172.50" stroke="#666" stroke-width="1" />
<text x="399.80" y="175.40" font-size="6.5" text-anchor="end"  stroke="#000" stroke-width="0.05">30</text>
<line x1="402.00" y1="139.50" x2="405.00" y2="139.50" stroke="#666" stroke-width="1" />
<text x="399.80" y="145.40" font-size="6.5" text-anchor="end"  stroke="#000" stroke-width="0.05">40</text>
<line x1="402.00" y1="105.50" x2="405.00" y2="105.50" stroke="#666" stroke-width="1" />
<text x="399.80" y="111.40" font-size="6.5" text-anchor="end"  stroke="#000" stroke-width="0.05">50</text>
<line x1="402.00" y1="72.50" x2="405.00" y2="72.50" stroke="#666" stroke-width="1" />
<text x="399.80" y="78.40" font-size="6.5" text-anchor="end"  stroke="#000" stroke-width="0.05">60</text>
<line x1="402.00" y1="38.50" x2="405.00" y2="38.50" stroke="#666" stroke-width="1" />
<text x="399.80" y="44.40" font-size="6.5" text-anchor="end"  stroke="#000" stroke-width="0.05">70</text>
<line x1="402.00" y1="5.50" x2="405.00" y2="5.50" stroke="#666" stroke-width="1" />
<text x="399.80" y="11.40" font-size="6.5" text-anchor="end"  stroke="#000" stroke-width="0.05">80</text>
<line x1="495.00" y1="272.50" x2="498.00" y2="272.50" stroke="#666" stroke-width="1" />
<text x="504.00" y="275.00" font-size="6.5" text-anchor="start" textLength="3.00" lengthAdjust="spacingAndGlyphs"  stroke="#000" stroke-width="0.05">0</text>
<line x1="495.00" y1="245.50" x2="498.00" y2="245.50" stroke="#666" stroke-width="1" />
<text x="504.00" y="248.00" font-size="6.5" text-anchor="start" textLength="3.00" lengthAdjust="spacingAndGlyphs"  stroke="#000" stroke-width="0.05">1</text>
<line x1="495.00" y1="219.50" x2="498.00" y2="219.50" stroke="#666" stroke-width="1" />
<text x="504.00" y="222.00" font-size="6.5" text-anchor="start" textLength="3.00" lengthAdjust="spacingAndGlyphs"  stroke="#000" stroke-width="0.05">2</text>
<line x1="495.00" y1="192.50" x2="498.00" y2="192.50" stroke="#666" stroke-width="1" />
<text x="504.00" y="195.00" font-size="6.5" text-anchor="start" textLength="3.00" lengthAdjust="spacingAndGlyphs"  stroke="#000" stroke-width="0.05">3</text>
<line x1="495.00" y1="165.50" x2="498.00" y2="165.50" stroke="#666" stroke-width="1" />
<text x="504.00" y="168.00" font-size="6.5" text-anchor="start" textLength="3.00" lengthAdjust="spacingAndGlyphs"  stroke="#000" stroke-width="0.05">4</text>
<line x1="495.00" y1="139.50" x2="498.00" y2="139.50" stroke="#666" stroke-width="1" />
<text x="504.00" y="142.00" font-size="6.5" text-anchor="start" textLength="3.00" lengthAdjust="spacingAndGlyphs"  stroke="#000" stroke-width="0.05">5</text>
<line x1="495.00" y1="112.50" x2="498.00" y2="112.50" stroke="#666" stroke-width="1" />
<text x="504.00" y="115.00" font-size="6.5" text-anchor="start" textLength="3.00" lengthAdjust="spacingAndGlyphs"  stroke="#000" stroke-width="0.05">6</text>
<line x1="495.00" y1="85.50" x2="498.00" y2="85.50" stroke="#666" stroke-width="1" />
<text x="504.00" y="88.00" font-size="6.5" text-anchor="start" textLength="3.00" lengthAdjust="spacingAndGlyphs"  stroke="#000" stroke-width="0.05">7</text>
<line x1="495.00" y1="58.50" x2="498.00" y2="58.50" stroke="#666" stroke-width="1" />
<text x="504.00" y="61.00" font-size="6.5" text-anchor="start" textLength="3.00" lengthAdjust="spacingAndGlyphs"  stroke="#000" stroke-width="0.05">8</text>
<line x1="495.00" y1="32.50" x2="498.00" y2="32.50" stroke="#666" stroke-width="1" />
<text x="504.00" y="35.00" font-size="6.5" text-anchor="start" textLength="3.00" lengthAdjust="spacingAndGlyphs"  stroke="#000" stroke-width="0.05">9</text>
<line x1="495.00" y1="5.50" x2="498.00" y2="5.50" stroke="#666" stroke-width="1" />
<text x="504.00" y="8.00" font-size="6.5" text-anchor="start"  stroke="#000" stroke-width="0.05">10</text>
<line x1="434.50" y1="270.50" x2="434.50" y2="274.50" stroke="#666" stroke-width="1" />
<line x1="465.50" y1="270.50" x2="465.50" y2="274.50" stroke="#666" stroke-width="1" />
<text x="404.60" y="21.80" font-size="17" text-anchor="start" font-weight="bold"  stroke="#000" stroke-width="0.5">B</text>
<text x="434.20" y="284.50" font-size="9.0" text-anchor="middle" font-weight="bold"  stroke="#000" stroke-width="0.45">Pre</text>
<text x="468.50" y="284.50" font-size="9.0" text-anchor="middle" font-weight="bold"  stroke="#000" stroke-width="0.45">Post</text>
<line x1="434.50" y1="148.00" x2="434.50" y2="177.00" stroke="#000" stroke-width="1" />
<line x1="432.00" y1="148.50" x2="437.00" y2="148.50" stroke="#000" stroke-width="1" />
<line x1="465.50" y1="173.00" x2="465.50" y2="191.00" stroke="#000" stroke-width="1" />
<line x1="463.00" y1="173.50" x2="468.00" y2="173.50" stroke="#000" stroke-width="1" />
<line x1="434.50" y1="214.00" x2="434.50" y2="224.60" stroke="#000" stroke-width="1" />
<line x1="432.00" y1="214.50" x2="437.00" y2="214.50" stroke="#000" stroke-width="1" />
<line x1="465.50" y1="6.00" x2="465.50" y2="30.00" stroke="#000" stroke-width="1" />
<line x1="463.00" y1="6.50" x2="468.00" y2="6.50" stroke="#000" stroke-width="1" />
<line x1="434.50" y1="249.00" x2="434.50" y2="257.00" stroke="#000" stroke-width="1" />
<line x1="432.00" y1="257.50" x2="437.00" y2="257.50" stroke="#000" stroke-width="1" />
<line x1="465.50" y1="234.00" x2="465.50" y2="246.00" stroke="#000" stroke-width="1" />
<line x1="463.00" y1="246.50" x2="468.00" y2="246.50" stroke="#000" stroke-width="1" />
<polyline points="434.50,224.60 465.50,29.50" fill="none" stroke="#000" stroke-width="1.25"/>
<polyline points="434.50,243.00 465.50,30.00" fill="none" stroke="#000" stroke-width="1.25" stroke-dasharray="5 2.5"/>
<polyline points="434.50,249.40 465.50,234.60" fill="none" stroke="#000" stroke-width="1.25" stroke-dasharray="1.8 2"/>
<polyline points="434.50,177.00 465.50,190.80" fill="none" stroke="#000" stroke-width="1.2" stroke-dasharray="5 2 1.5 2"/>
<polygon points="434.50,222.00 437.10,224.60 434.50,227.20 431.90,224.60" fill="#000"/>
<polygon points="465.50,26.90 468.10,29.50 465.50,32.10 462.90,29.50" fill="#000"/>
<rect x="432.10" y="240.60" width="4.80" height="4.80" fill="#000"/>
<rect x="463.10" y="27.60" width="4.80" height="4.80" fill="#000"/>
<circle cx="434.50" cy="249.40" r="2.4" fill="#000"/>
<circle cx="465.50" cy="234.60" r="2.4" fill="#000"/>
<polygon points="434.50,174.50 436.60,178.80 432.40,178.80" fill="#fff" stroke="#000" stroke-width="0.9"/>
<polygon points="465.50,188.30 467.60,192.60 463.40,192.60" fill="#fff" stroke="#000" stroke-width="0.9"/>
</svg>
</body></html>
